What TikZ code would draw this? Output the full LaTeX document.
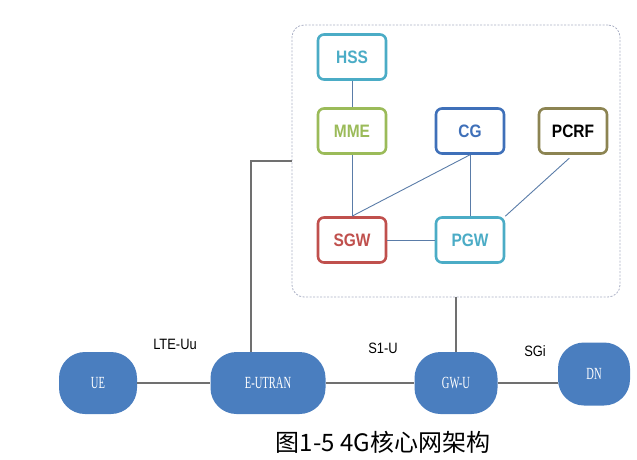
\documentclass[tikz,border=0pt]{standalone}
\usepackage{fontspec}
\setmainfont{Liberation Sans}
\newfontfamily\cjkfont{Noto Sans CJK SC}
\newfontfamily\accessfont{Liberation Serif}
\usetikzlibrary{positioning,calc}

\definecolor{hsscol}{HTML}{4BACC6}
\definecolor{mmecol}{HTML}{9BBB59}
\definecolor{cgcol}{HTML}{3F70B9}
\definecolor{pcrfcol}{HTML}{8C8452}
\definecolor{sgwcol}{HTML}{C0504D}
\definecolor{accessblue}{HTML}{4A7EBF}
\definecolor{innerline}{HTML}{5A7CA8}
\definecolor{outerline}{HTML}{707070}
\definecolor{dashcol}{HTML}{A9AFC4}

\newcommand{\squeeze}[1]{\scalebox{0.62}[1]{#1}}
\newcommand{\narrow}[1]{\scalebox{0.86}[1]{#1}}

\begin{document}
\begin{tikzpicture}[x=1pt,y=-1pt,-,node distance=74pt,
                    core node/.style={draw=#1,text=#1,line width=2.6pt,rounded corners=6pt,fill=white,
                                      minimum width=68pt,minimum height=45pt,
                                      font=\fontsize{18}{20}\selectfont\bfseries},
                    access node/.style={fill=accessblue,rounded corners=26pt,text=white,minimum height=62pt,
                                        font=\accessfont\fontsize{17}{19}\selectfont},
                    inner link/.style={draw=innerline,line width=0.9pt},
                    outer link/.style={draw=outerline,line width=1.2pt},
                    if label/.style={font=\fontsize{15}{17}\selectfont}]

  \useasboundingbox (0,0) rectangle (637,460);

  % core network box
  \node[draw=dashcol,line width=0.8pt,dash pattern=on 2pt off 1.5pt,rounded corners=12pt,
        minimum width=328pt,minimum height=272pt] (core) at (456,161) {};

  \node[core node=hsscol] (hss) at (352,57) {\narrow{HSS}};
  \node[core node=mmecol] (mme) [below of=hss] {\narrow{MME}};
  \node[core node=sgwcol] (sgw) [below of=mme, node distance=109pt] {\narrow{SGW}};
  \node[core node=cgcol] (cg) [right of=mme, node distance=118pt] {\narrow{CG}};
  \node[core node=hsscol] (pgw) [below of=cg, node distance=109pt] {\narrow{PGW}};
  \node[core node=pcrfcol, text=black] (pcrf) [right of=cg, node distance=103pt] {\narrow{PCRF}};

  \path[inner link]
  (hss) edge (mme)
  (mme) edge (sgw)
  (sgw) edge (pgw)
  (cg)  edge (pgw)
  (cg.south) edge (sgw.north)
  (pcrf.south) edge[shorten <=5pt] (pgw.north east);

  % access side
  \node[access node,minimum width=78pt] (ue) at (98,383) {\squeeze{UE}};
  \node[access node,minimum width=115pt] (eutran) [right of=ue, node distance=170pt] {\squeeze{E-UTRAN}};
  \node[access node,minimum width=83pt] (gwu) [right of=eutran, node distance=188pt] {\squeeze{GW-U}};
  \node[access node,minimum width=72pt,minimum height=63pt] (dn) at (594,374) {\squeeze{DN}};

  \coordinate (tap) at (251,0);

  \path[outer link]
  (ue) edge (eutran)
  (eutran) edge (gwu)
  (gwu) edge (gwu -| dn.west);
  \draw[outer link] (core.west) -| (eutran.north -| tap);
  \draw[outer link] (core.south) -- (gwu.north);

  \node[if label] (lteuu) at (175,344) {\narrow{LTE-Uu}};
  \node[if label] (s1u) at (383,348) {\narrow{S1-U}};
  \node[if label] (sgi) at (535,351) {\narrow{SGi}};

  \node[font=\cjkfont\fontsize{24}{28}\selectfont] (caption) at (383,442) {图1-5 4G核心网架构};

\end{tikzpicture}
\end{document}
